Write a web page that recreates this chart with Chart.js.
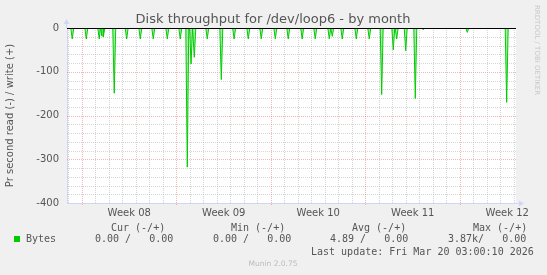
<!DOCTYPE html>
<html>
<head>
<meta charset="utf-8">
<title>Disk throughput for /dev/loop6 - by month</title>
<script src="https://cdn.jsdelivr.net/npm/chart.js@4.4.1/dist/chart.umd.min.js"></script>
<style>
  html, body { margin: 0; padding: 0; background: #f0f0f0; }
  #wrap { width: 547px; height: 275px; }
</style>
</head>
<body>
<div id="wrap"><canvas id="diskChart" width="547" height="275"></canvas></div>
<script>
// x is in days since Mon 16 Feb 2026 00:00 (start of week 08)
const xMin = -1.11;
const xMax = 32.15;
const weekStarts = [0, 7, 14, 21, 28];
const weekCenters = [3.5, 10.5, 17.5, 24.5, 31.5];
const weekLabels = ['Week 08', 'Week 09', 'Week 10', 'Week 11', 'Week 12'];

// read throughput spikes (drawn negative), the rest of the month is 0
const spikeDays = [-0.72, 0.32, 1.28, 1.47, 1.58, 2.39, 3.31, 4.32, 5.28, 6.32, 7.28, 7.80, 8.08, 8.32,
  9.28, 10.32, 11.27, 12.32, 13.28, 14.32, 15.28, 16.31, 17.28, 18.32, 18.54, 19.28, 20.32, 21.28,
  22.20, 23.06, 23.31, 23.98, 24.69, 25.28, 28.54, 31.46];
const spikeValues = [-25, -25, -25, -18, -20, -149, -25, -25, -25, -25, -25, -318, -82, -67,
  -25, -118, -25, -25, -25, -25, -25, -25, -25, -25, -19, -25, -25, -25,
  -152, -50, -25, -52, -161, -4, -10, -170];

const legendHeads = ['Cur (-/+)', 'Min (-/+)', 'Avg (-/+)', 'Max (-/+)'];
const legendValues = ['0.00 /   0.00', '0.00 /   0.00', '4.89 /   0.00', '3.87k/   0.00'];
const lastUpdate = 'Last update: Fri Mar 20 03:00:10 2026';

const gridGrey = 'rgba(185,185,185,0.6)';
const gridRed = 'rgba(230,110,110,0.5)';
const axisBlue = '#cfd6f8';
const fontCol = '#555555';

const readPoints = [{ x: xMin, y: 0 }];
spikeDays.forEach((d, i) => {
  readPoints.push({ x: d - 0.11, y: 0 }, { x: d, y: spikeValues[i] }, { x: d + 0.11, y: 0 });
});
readPoints.push({ x: xMax, y: 0 });
readPoints.sort((a, b) => a.x - b.x);

const muninFrame = {
  id: 'muninFrame',
  beforeDraw(chart) {
    const { ctx, chartArea: a } = chart;
    ctx.save();
    ctx.fillStyle = '#f0f0f0';
    ctx.fillRect(0, 0, chart.width, chart.height);
    ctx.fillStyle = '#ffffff';
    ctx.fillRect(a.left, a.top, a.right - a.left, a.bottom - a.top);
    ctx.restore();
  },
  beforeDatasetsDraw(chart) {
    // rrdtool style dotted grid: grey every 20 / every day, red every 100 / every week
    const { ctx, chartArea: a, scales } = chart;
    ctx.save();
    ctx.lineWidth = 1;
    ctx.setLineDash([1, 1]);
    for (let v = -380; v < 0; v += 20) {
      const py = Math.round(scales.y.getPixelForValue(v)) + 0.5;
      ctx.strokeStyle = v % 100 === 0 ? gridRed : gridGrey;
      ctx.beginPath();
      ctx.moveTo(a.left, py);
      ctx.lineTo(a.right, py);
      ctx.stroke();
    }
    for (let d = Math.ceil(xMin); d <= xMax; d++) {
      const px = Math.round(scales.x.getPixelForValue(d)) + 0.5;
      ctx.strokeStyle = weekStarts.includes(d) ? gridRed : gridGrey;
      ctx.beginPath();
      ctx.moveTo(px, a.top);
      ctx.lineTo(px, a.bottom + (weekStarts.includes(d) ? 2 : 0));
      ctx.stroke();
    }
    ctx.restore();
  },
  afterDraw(chart) {
    const { ctx, chartArea: a } = chart;
    ctx.save();

    // zero rule
    ctx.strokeStyle = '#000000';
    ctx.lineWidth = 1;
    ctx.beginPath();
    ctx.moveTo(a.left, a.top + 0.5);
    ctx.lineTo(a.right, a.top + 0.5);
    ctx.stroke();

    // axis arrows
    ctx.strokeStyle = axisBlue;
    ctx.fillStyle = axisBlue;
    ctx.beginPath();
    ctx.moveTo(a.left - 0.5, a.top);
    ctx.lineTo(a.left - 0.5, a.top - 5);
    ctx.moveTo(a.right, a.bottom + 0.5);
    ctx.lineTo(a.right + 4, a.bottom + 0.5);
    ctx.stroke();
    ctx.beginPath();
    ctx.moveTo(a.left - 3.5, a.top - 4);
    ctx.lineTo(a.left + 2.5, a.top - 4);
    ctx.lineTo(a.left - 0.5, a.top - 9);
    ctx.closePath();
    ctx.fill();
    ctx.beginPath();
    ctx.moveTo(a.right + 3, a.bottom - 2.5);
    ctx.lineTo(a.right + 3, a.bottom + 3.5);
    ctx.lineTo(a.right + 8, a.bottom + 0.5);
    ctx.closePath();
    ctx.fill();

    // title
    ctx.fillStyle = fontCol;
    ctx.font = '13px "DejaVu Sans"';
    ctx.textAlign = 'center';
    ctx.textBaseline = 'alphabetic';
    ctx.fillText('Disk throughput for /dev/loop6 - by month', 273, 23);

    // vertical axis title
    ctx.save();
    ctx.translate(10, (a.top + a.bottom) / 2);
    ctx.rotate(-Math.PI / 2);
    ctx.font = '10px "DejaVu Sans"';
    ctx.textBaseline = 'middle';
    ctx.fillText('Pr second read (-) / write (+)', 0, 0);
    ctx.restore();

    // rrdtool credit
    ctx.save();
    ctx.translate(537, 5);
    ctx.rotate(Math.PI / 2);
    ctx.font = '7px "DejaVu Sans"';
    ctx.textAlign = 'left';
    ctx.textBaseline = 'middle';
    ctx.fillStyle = '#c8c8c8';
    ctx.fillText('RRDTOOL / TOBI OETIKER', 0, 0);
    ctx.restore();

    // legend
    ctx.font = '10px "DejaVu Sans Mono"';
    ctx.textAlign = 'left';
    ctx.textBaseline = 'middle';
    ctx.fillStyle = fontCol;
    const headX = [111, 231, 352, 473];
    const valX = [95, 213, 330, 448];
    legendHeads.forEach((h, i) => ctx.fillText(h, headX[i], 228));
    ctx.fillText('Bytes', 26, 239.5);
    legendValues.forEach((v, i) => ctx.fillText(v, valX[i], 239.5));
    ctx.fillText(lastUpdate, 311, 252);
    ctx.fillStyle = '#00cc00';
    ctx.fillRect(14, 236, 6, 6);

    ctx.fillStyle = '#bbbbbb';
    ctx.font = '7.5px "DejaVu Sans"';
    ctx.textAlign = 'center';
    ctx.fillText('Munin 2.0.75', 273, 264);
    ctx.restore();
  }
};

Chart.defaults.font.family = '"DejaVu Sans"';
Chart.defaults.font.size = 10;
Chart.defaults.color = fontCol;

new Chart(document.getElementById('diskChart').getContext('2d'), {
  type: 'line',
  data: {
    datasets: [{
      label: 'Bytes',
      data: readPoints,
      borderColor: '#00cc00',
      backgroundColor: 'rgba(0,204,0,0.35)',
      borderWidth: 1,
      fill: 'origin',
      pointRadius: 0,
      tension: 0
    }]
  },
  options: {
    responsive: false,
    animation: false,
    layout: { padding: { top: 28, right: 31, left: 0, bottom: 0 } },
    plugins: {
      legend: { display: false },
      title: { display: false },
      tooltip: { enabled: false }
    },
    scales: {
      x: {
        type: 'linear',
        min: xMin,
        max: xMax,
        afterFit: scale => { scale.height = 72; },
        afterBuildTicks: scale => {
          scale.ticks = weekCenters.map(v => ({ value: v }));
        },
        ticks: {
          autoSkip: false,
          maxRotation: 0,
          minRotation: 0,
          padding: 4,
          color: fontCol,
          callback: value => {
            const i = weekCenters.indexOf(value);
            return i >= 0 ? weekLabels[i] : '';
          }
        },
        grid: { display: false, drawTicks: false },
        border: { color: axisBlue }
      },
      y: {
        type: 'linear',
        min: -400,
        max: 0,
        afterFit: scale => { scale.width = 67; },
        afterBuildTicks: scale => {
          scale.ticks = [0, -100, -200, -300, -400].map(v => ({ value: v }));
        },
        ticks: {
          autoSkip: false,
          padding: 8,
          color: fontCol,
          callback: value => String(value)
        },
        grid: { display: false, drawTicks: false },
        border: { color: axisBlue }
      }
    }
  },
  plugins: [muninFrame]
});
</script>
</body>
</html>
